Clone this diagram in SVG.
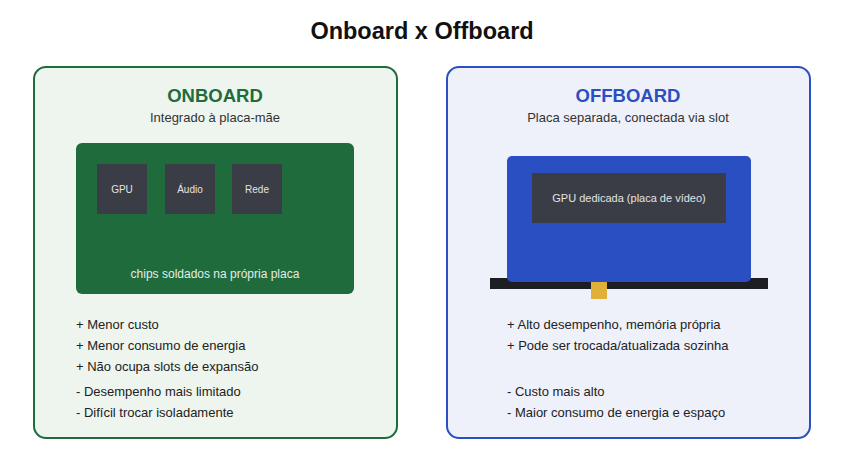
<svg xmlns="http://www.w3.org/2000/svg" width="844" height="472" viewBox="0 0 844 472">
<style>
text{font-family:"Liberation Sans",Arial,sans-serif}
.title{font-size:23.5px;font-weight:bold;fill:#111}
.h{font-size:18.5px;font-weight:bold}
.sub{font-size:13px;fill:#333}
.chip{fill:#3a3d45}
.chipt{font-size:10px;fill:#e4e4e4}
.gput{font-size:11px;fill:#e4e4e4}
.li{font-size:13px;fill:#222}
</style>
<rect width="844" height="472" fill="#fff"/>
<text class="title" x="422" y="39" text-anchor="middle">Onboard x Offboard</text>
<g id="onboard">
<rect x="34" y="67" width="363" height="371" rx="12" fill="#edf5ee" stroke="#1f6b3b" stroke-width="2"/>
<text class="h" x="215" y="102" text-anchor="middle" fill="#1f6b3b">ONBOARD</text>
<text class="sub" x="215" y="122" text-anchor="middle">Integrado à placa-mãe</text>
<rect x="76" y="143" width="278" height="151" rx="6" fill="#1f6b3b"/>
<rect class="chip" x="97" y="164" width="50" height="50"/>
<text class="chipt" x="122" y="193" text-anchor="middle">GPU</text>
<rect class="chip" x="165" y="164" width="50" height="50"/>
<text class="chipt" x="190" y="193" text-anchor="middle">Áudio</text>
<rect class="chip" x="232" y="164" width="50" height="50"/>
<text class="chipt" x="257" y="193" text-anchor="middle">Rede</text>
<text x="215" y="278" text-anchor="middle" font-size="12" fill="#e4ece6">chips soldados na própria placa</text>
<text class="li" x="76" y="329">+ Menor custo</text>
<text class="li" x="76" y="350">+ Menor consumo de energia</text>
<text class="li" x="76" y="371">+ Não ocupa slots de expansão</text>
<text class="li" x="76" y="396">- Desempenho mais limitado</text>
<text class="li" x="76" y="417">- Difícil trocar isoladamente</text>
</g>
<g id="offboard">
<rect x="447" y="67" width="363" height="371" rx="12" fill="#eef0fa" stroke="#2a4fc2" stroke-width="2"/>
<text class="h" x="628" y="102" text-anchor="middle" fill="#2a4fc2">OFFBOARD</text>
<text class="sub" x="628" y="122" text-anchor="middle">Placa separada, conectada via slot</text>
<rect x="490" y="278" width="278" height="11" fill="#1c1e22"/>
<rect x="507" y="156" width="244" height="126" rx="5" fill="#2a4fc2"/>
<rect class="chip" x="532" y="173" width="194" height="50"/>
<text class="gput" x="629" y="202" text-anchor="middle">GPU dedicada (placa de vídeo)</text>
<rect x="591" y="282" width="16" height="17" fill="#e0b03a"/>
<text class="li" x="507" y="329">+ Alto desempenho, memória própria</text>
<text class="li" x="507" y="350">+ Pode ser trocada/atualizada sozinha</text>
<text class="li" x="507" y="396">- Custo mais alto</text>
<text class="li" x="507" y="417">- Maior consumo de energia e espaço</text>
</g>
<g id="connectors"></g>
</svg>
